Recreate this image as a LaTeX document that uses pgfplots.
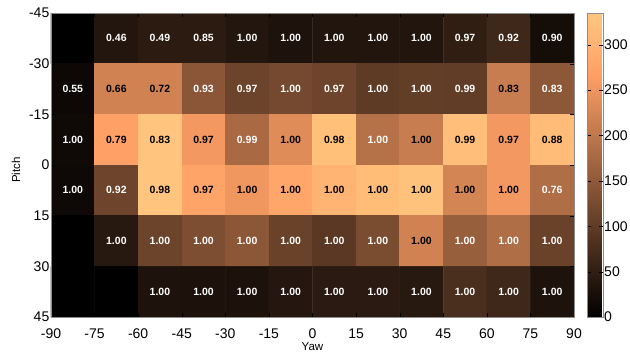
\documentclass[border=0pt]{standalone}
\usepackage{pgfplots}
\pgfplotsset{compat=1.18}
\usepackage{fontspec}
\setmainfont{Liberation Sans}
\pgfplotstableread{
x y v
-82.5 -37.5 0
-67.5 -37.5 37
-52.5 -37.5 45
-37.5 -37.5 45
-22.5 -37.5 37
-7.5 -37.5 32
7.5 -37.5 35
22.5 -37.5 35
37.5 -37.5 35
52.5 -37.5 50
67.5 -37.5 66
82.5 -37.5 22
-82.5 -22.5 14
-67.5 -22.5 219
-52.5 -22.5 219
-37.5 -22.5 145
-22.5 -22.5 113
-7.5 -22.5 123
7.5 -22.5 116
22.5 -22.5 99
37.5 -22.5 104
52.5 -22.5 102
67.5 -22.5 210
82.5 -22.5 148
-82.5 -7.5 16
-67.5 -7.5 269
-52.5 -7.5 330
-37.5 -7.5 255
-22.5 -7.5 177
-7.5 -7.5 235
7.5 -7.5 323
22.5 -7.5 190
37.5 -7.5 210
52.5 -7.5 320
67.5 -7.5 255
82.5 -7.5 316
-82.5 7.5 15
-67.5 7.5 116
-52.5 7.5 330
-37.5 7.5 275
-22.5 7.5 252
-7.5 7.5 280
7.5 7.5 303
22.5 7.5 318
37.5 7.5 327
52.5 7.5 223
67.5 7.5 256
82.5 7.5 185
-82.5 22.5 0
-67.5 22.5 42
-52.5 22.5 114
-37.5 22.5 131
-22.5 22.5 146
-7.5 22.5 111
7.5 22.5 95
22.5 22.5 128
37.5 22.5 219
52.5 22.5 160
67.5 22.5 185
82.5 22.5 111
-82.5 37.5 0
-67.5 37.5 0
-52.5 37.5 32
-37.5 37.5 29
-22.5 37.5 29
-7.5 37.5 39
7.5 37.5 44
22.5 37.5 44
37.5 37.5 41
52.5 37.5 78
67.5 37.5 66
82.5 37.5 32
}\heat
\pgfplotstableread{
x y lab
-67.5 -37.5 0.46
-52.5 -37.5 0.49
-37.5 -37.5 0.85
-22.5 -37.5 1.00
-7.5 -37.5 1.00
7.5 -37.5 1.00
22.5 -37.5 1.00
37.5 -37.5 1.00
52.5 -37.5 0.97
67.5 -37.5 0.92
82.5 -37.5 0.90
-82.5 -22.5 0.55
-37.5 -22.5 0.93
-22.5 -22.5 0.97
-7.5 -22.5 1.00
7.5 -22.5 0.97
22.5 -22.5 1.00
37.5 -22.5 1.00
52.5 -22.5 0.99
82.5 -22.5 0.83
-82.5 -7.5 1.00
-22.5 -7.5 0.99
22.5 -7.5 1.00
-82.5 7.5 1.00
-67.5 7.5 0.92
82.5 7.5 0.76
-67.5 22.5 1.00
-52.5 22.5 1.00
-37.5 22.5 1.00
-22.5 22.5 1.00
-7.5 22.5 1.00
7.5 22.5 1.00
22.5 22.5 1.00
52.5 22.5 1.00
67.5 22.5 1.00
82.5 22.5 1.00
-52.5 37.5 1.00
-37.5 37.5 1.00
-22.5 37.5 1.00
-7.5 37.5 1.00
7.5 37.5 1.00
22.5 37.5 1.00
37.5 37.5 1.00
52.5 37.5 1.00
67.5 37.5 1.00
82.5 37.5 1.00
}\wlabels
\pgfplotstableread{
x y lab
-67.5 -22.5 0.66
-52.5 -22.5 0.72
67.5 -22.5 0.83
-67.5 -7.5 0.79
-52.5 -7.5 0.83
-37.5 -7.5 0.97
-7.5 -7.5 1.00
7.5 -7.5 0.98
37.5 -7.5 1.00
52.5 -7.5 0.99
67.5 -7.5 0.97
82.5 -7.5 0.88
-52.5 7.5 0.98
-37.5 7.5 0.97
-22.5 7.5 1.00
-7.5 7.5 1.00
7.5 7.5 1.00
22.5 7.5 1.00
37.5 7.5 1.00
52.5 7.5 1.00
67.5 7.5 1.00
37.5 22.5 1.00
}\blabels
\begin{document}
\begin{tikzpicture}
\begin{axis}[
  scale only axis, width=523pt, height=304pt,
  xmin=-90, xmax=90, ymin=-45, ymax=45,
  y dir=reverse,
  xtick={-90,-75,...,90}, ytick={-45,-30,...,45},
  tick align=inside, major tick length=4pt,
  axis line style={black!45}, tick style={black},
  tick label style={font=\fontsize{14}{16}\selectfont},
  xticklabel style={yshift=-8pt},
  yticklabel style={inner xsep=1.5pt},
  /pgf/number format/assume math mode=true,
  xlabel={Yaw}, ylabel={Pitch},
  label style={font=\fontsize{11.5}{13}\selectfont},
  xlabel style={at={(axis description cs:0.5,0)}, anchor=center, yshift=-30pt},
  ylabel style={at={(axis description cs:0,0.5)}, anchor=center, yshift=35pt, xshift=-5pt},
  colormap={copper}{rgb(0cm)=(0,0,0) rgb(8cm)=(1,0.625,0.398) rgb(10cm)=(1,0.7812,0.4975)},
  point meta min=0, point meta max=335,
  colorbar,
  colorbar style={scale only axis, width=16pt, height=304pt,
    at={(parent axis.north east)}, anchor=north west, xshift=4.5pt,
    ytick={0,50,...,300}, scaled y ticks=false,
    tick align=inside, major tick length=4pt,
    axis line style={black!45}, tick style={black},
    tick label style={font=\fontsize{14}{16}\selectfont},
    yticklabel style={inner xsep=0pt, xshift=1pt},
    /pgf/number format/assume math mode=true},
  axis on top,
]
\addplot[matrix plot*, mesh/cols=12, point meta=explicit] table[meta=v] {\heat};
\addplot[draw=none, mark=none, point meta=explicit symbolic,
  nodes near coords, nodes near coords align=center,
  every node near coord/.append style={text=white, font=\bfseries\fontsize{10.5}{12}\selectfont, anchor=center}
] table[x=x, y=y, meta=lab] {\wlabels};
\addplot[draw=none, mark=none, point meta=explicit symbolic,
  nodes near coords, nodes near coords align=center,
  every node near coord/.append style={text=black, font=\bfseries\fontsize{10.5}{12}\selectfont, anchor=center}
] table[x=x, y=y, meta=lab] {\blabels};
\end{axis}
\pgfresetboundingbox
\path[use as bounding box] (-51pt,-39pt) rectangle (579pt,317pt);
\end{tikzpicture}
\end{document}
